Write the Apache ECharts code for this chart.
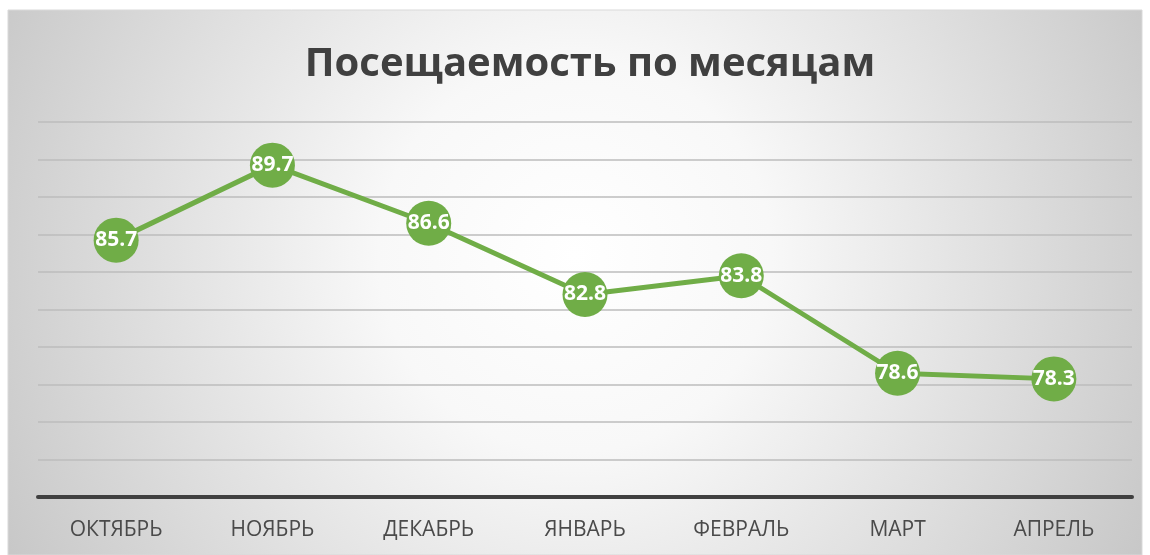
<!DOCTYPE html>
<html>
<head>
<meta charset="utf-8">
<script src="https://cdn.jsdelivr.net/npm/echarts@6/dist/echarts.min.js"></script>
<style>
  html, body { margin: 0; padding: 0; background: #fff; }
  #main { width: 1150px; height: 555px; }
</style>
</head>
<body>
<div id="main"></div>
<script>
// данные
var months = ['ОКТЯБРЬ', 'НОЯБРЬ', 'ДЕКАБРЬ', 'ЯНВАРЬ', 'ФЕВРАЛЬ', 'МАРТ', 'АПРЕЛЬ'];
var attendance = [85.7, 89.7, 86.6, 82.8, 83.8, 78.6, 78.3];

var chart = echarts.init(document.getElementById('main'));
var option = {
  backgroundColor: '#ffffff',
  animation: false,
  graphic: [
    {
      type: 'rect',
      z: -10,
      silent: true,
      shape: { x: 8, y: 10, width: 1134, height: 545 },
      style: {
        fill: {
          type: 'radial', x: 0.5, y: 0.45, r: 1.2,
          colorStops: [
            { offset: 0, color: '#ffffff' },
            { offset: 0.3, color: '#f8f8f8' },
            { offset: 1, color: '#c6c6c6' }
          ]
        },
        stroke: '#d9d9d9',
        lineWidth: 1
      }
    }
  ],
  title: {
    text: 'Посещаемость по месяцам',
    left: 585,
    textAlign: 'center',
    top: 40,
    textStyle: {
      fontFamily: 'Open Sans',
      fontSize: 40,
      fontWeight: 'bold',
      color: '#404040'
    }
  },
  grid: {
    left: 38,
    right: 18,
    top: 122,
    bottom: 58
  },
  xAxis: {
    type: 'category',
    data: months,
    boundaryGap: true,
    axisLine: { show: true, lineStyle: { color: '#404040', width: 4 } },
    axisTick: { show: false },
    axisLabel: {
      margin: 23,
      fontFamily: 'Open Sans',
      fontSize: 21,
      color: '#4a4a4a'
    }
  },
  yAxis: {
    type: 'value',
    min: 72,
    max: 92,
    interval: 2,
    axisLabel: { show: false },
    axisLine: { show: false },
    axisTick: { show: false },
    splitLine: { lineStyle: { color: '#bcbcbc', width: 1.5 } }
  },
  series: [
    {
      type: 'line',
      data: attendance,
      symbol: 'circle',
      symbolSize: 45,
      lineStyle: { color: '#70ad47', width: 5 },
      itemStyle: { color: '#70ad47' },
      label: {
        show: true,
        position: 'inside',
        fontFamily: 'Open Sans',
        fontWeight: 'bold',
        fontSize: 21,
        color: '#ffffff',
        formatter: function (p) { return p.value.toFixed(1); }
      }
    }
  ]
};
chart.setOption(option);
</script>
</body>
</html>
